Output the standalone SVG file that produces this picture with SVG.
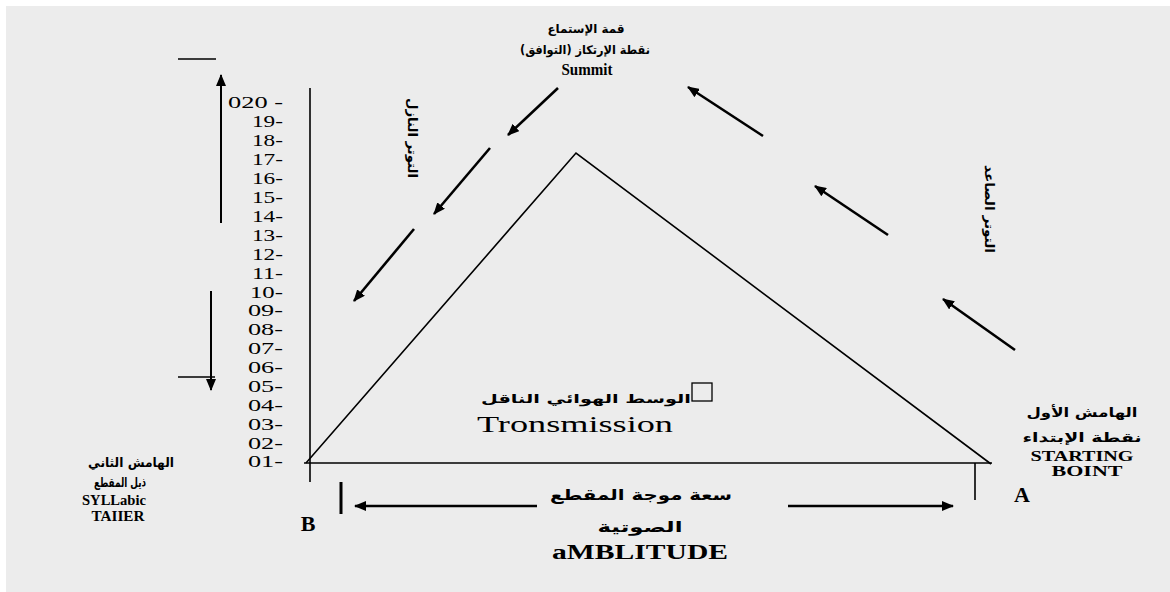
<svg xmlns="http://www.w3.org/2000/svg" width="1170" height="592" viewBox="0 0 1170 592">
<style>
.ln{stroke:#000;stroke-width:1.6;fill:none}
.ar{stroke:#000;stroke-width:2.6;fill:none;marker-end:url(#ah)}
.ax{stroke:#000;stroke-width:2;fill:none;marker-end:url(#ah)}
.num{font-family:"Liberation Serif",serif;font-size:17px;text-anchor:end;fill:#000}
.ser{font-family:"Liberation Serif",serif;fill:#000;text-anchor:middle}
.ara{font-family:"DejaVu Sans","Noto Sans",sans-serif;font-weight:bold;fill:#000;text-anchor:middle}
</style>
<defs>
<marker id="ah" viewBox="0 0 12 10" refX="11" refY="5" markerWidth="12" markerHeight="10" markerUnits="userSpaceOnUse" orient="auto">
<path d="M0,0 L12,5 L0,10 z" fill="#000"/>
</marker>
</defs>
<rect x="6" y="6" width="1164" height="586" fill="#ececec"/>

<g id="axis">
<line class="ln" x1="310" y1="88" x2="310" y2="482"/>
<line class="ln" x1="304" y1="463" x2="992" y2="463"/>
<g id="scale">
<text class="num" x="283" y="108" textLength="55" lengthAdjust="spacingAndGlyphs">020 -</text>
<text class="num" x="283" y="127" textLength="31" lengthAdjust="spacingAndGlyphs">19-</text>
<text class="num" x="283" y="146" textLength="31" lengthAdjust="spacingAndGlyphs">18-</text>
<text class="num" x="283" y="165" textLength="31" lengthAdjust="spacingAndGlyphs">17-</text>
<text class="num" x="283" y="184" textLength="31" lengthAdjust="spacingAndGlyphs">16-</text>
<text class="num" x="283" y="203" textLength="31" lengthAdjust="spacingAndGlyphs">15-</text>
<text class="num" x="283" y="222" textLength="31" lengthAdjust="spacingAndGlyphs">14-</text>
<text class="num" x="283" y="241" textLength="31" lengthAdjust="spacingAndGlyphs">13-</text>
<text class="num" x="283" y="260" textLength="31" lengthAdjust="spacingAndGlyphs">12-</text>
<text class="num" x="283" y="279" textLength="31" lengthAdjust="spacingAndGlyphs">11-</text>
<text class="num" x="283" y="298" textLength="33" lengthAdjust="spacingAndGlyphs">10-</text>
<text class="num" x="283" y="316" textLength="35" lengthAdjust="spacingAndGlyphs">09-</text>
<text class="num" x="283" y="335" textLength="35" lengthAdjust="spacingAndGlyphs">08-</text>
<text class="num" x="283" y="354" textLength="35" lengthAdjust="spacingAndGlyphs">07-</text>
<text class="num" x="283" y="373" textLength="35" lengthAdjust="spacingAndGlyphs">06-</text>
<text class="num" x="283" y="392" textLength="35" lengthAdjust="spacingAndGlyphs">05-</text>
<text class="num" x="283" y="411" textLength="35" lengthAdjust="spacingAndGlyphs">04-</text>
<text class="num" x="283" y="430" textLength="35" lengthAdjust="spacingAndGlyphs">03-</text>
<text class="num" x="283" y="449" textLength="35" lengthAdjust="spacingAndGlyphs">02-</text>
<text class="num" x="283" y="467" textLength="35" lengthAdjust="spacingAndGlyphs">01-</text>
</g>
</g>

<g id="triangle">
<polyline class="ln" points="306,463 576,153 991,464"/>
</g>

<g id="connectors">
<line class="ax" x1="221" y1="223" x2="221" y2="75"/>
<line class="ln" x1="178" y1="59" x2="216" y2="59"/>
<line class="ax" x1="211" y1="291" x2="211" y2="390"/>
<line class="ln" x1="178" y1="377" x2="215" y2="377"/>

<line class="ar" x1="558" y1="88" x2="508" y2="135"/>
<line class="ar" x1="490" y1="148" x2="434" y2="214"/>
<line class="ar" x1="414" y1="229" x2="354" y2="301"/>

<line class="ar" x1="763" y1="136" x2="688" y2="87"/>
<line class="ar" x1="888" y1="235" x2="815" y2="186"/>
<line class="ar" x1="1015" y1="350" x2="943" y2="299"/>

<line class="ar" x1="537" y1="506" x2="355" y2="506"/>
<line class="ar" x1="788" y1="506" x2="953" y2="506"/>
<line x1="341" y1="482" x2="341" y2="514" stroke="#000" stroke-width="3"/>
<line class="ln" x1="975" y1="463" x2="975" y2="500"/>
</g>

<g id="summit">
<text class="ara" x="586" y="33" font-size="12" textLength="77" lengthAdjust="spacingAndGlyphs">قمة الإستماع</text>
<text class="ara" x="585" y="54" font-size="12" textLength="130" lengthAdjust="spacingAndGlyphs">نقطة الإرتكاز (التوافق)</text>
<text class="ser" x="587" y="75" font-size="16" font-weight="bold" textLength="51" lengthAdjust="spacingAndGlyphs">Summit</text>
</g>

<g id="descending">
<text class="ara" transform="translate(413,138) rotate(90)" x="0" y="5" font-size="13" textLength="80" lengthAdjust="spacingAndGlyphs">التوتر النازل</text>
</g>

<g id="ascending">
<text class="ara" transform="translate(990,209) rotate(90)" x="0" y="5" font-size="13" textLength="88" lengthAdjust="spacingAndGlyphs">التوتر الصاعد</text>
</g>

<g id="transmission">
<rect x="692" y="383" width="20" height="18" fill="none" stroke="#000" stroke-width="1.3"/>
<text class="ara" x="586" y="403" font-size="12" textLength="210" lengthAdjust="spacingAndGlyphs">الوسط الهوائي الناقل</text>
<text class="ser" x="575" y="432" font-size="24" textLength="196" lengthAdjust="spacingAndGlyphs">Tronsmission</text>
</g>

<g id="syllabic-tail">
<text class="ara" x="131" y="467" font-size="13" textLength="86" lengthAdjust="spacingAndGlyphs">الهامش الثاني</text>
<text class="ara" x="120" y="487" font-size="13" textLength="52" lengthAdjust="spacingAndGlyphs">ذيل المقطع</text>
<text class="ser" x="114" y="505" font-size="15" font-weight="bold" textLength="64" lengthAdjust="spacingAndGlyphs">SYLLabic</text>
<text class="ser" x="118" y="521" font-size="15" font-weight="bold" textLength="53" lengthAdjust="spacingAndGlyphs">TAIIER</text>
</g>

<g id="starting-point">
<text class="ara" x="1082" y="417" font-size="13" textLength="111" lengthAdjust="spacingAndGlyphs">الهامش الأول</text>
<text class="ara" x="1082" y="442" font-size="13" textLength="119" lengthAdjust="spacingAndGlyphs">نقطة الإبتداء</text>
<text class="ser" x="1082" y="461" font-size="15" font-weight="bold" textLength="103" lengthAdjust="spacingAndGlyphs">STARTING</text>
<text class="ser" x="1087" y="476" font-size="15" font-weight="bold" textLength="71" lengthAdjust="spacingAndGlyphs">BOINT</text>
</g>

<g id="amplitude">
<text class="ara" x="641" y="500" font-size="15" textLength="182" lengthAdjust="spacingAndGlyphs">سعة موجة المقطع</text>
<text class="ara" x="640" y="532" font-size="15" textLength="85" lengthAdjust="spacingAndGlyphs">الصوتية</text>
<text class="ser" x="640" y="559" font-size="20" font-weight="bold" textLength="176" lengthAdjust="spacingAndGlyphs">aMBLITUDE</text>
</g>

<g id="labels">
<text class="ser" x="308" y="531" font-size="22" font-weight="bold">B</text>
<text class="ser" x="1022" y="502" font-size="22" font-weight="bold">A</text>
</g>
</svg>
